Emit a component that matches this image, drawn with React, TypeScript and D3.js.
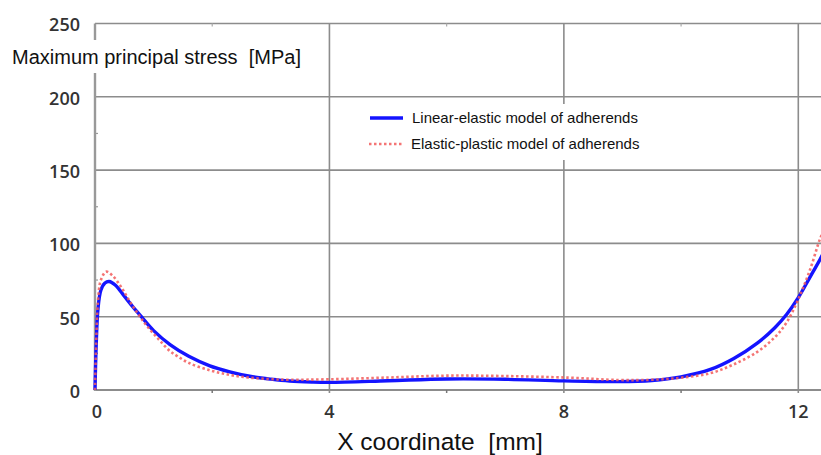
import React from "react";
import * as d3 from "d3";

const W = 821;
const H = 455;

// X coordinate [mm] and stress [MPa]
const linearX = [0, 0.02, 0.05, 0.1, 0.17, 0.24, 0.35, 0.5, 0.65, 0.78, 1.0, 1.28, 1.6, 1.96, 2.3, 2.64, 3.0, 3.32, 3.7, 4.0, 5.0, 6.0, 7.0, 8.0, 8.94, 9.5, 10.0, 10.5, 10.9, 11.3, 11.6, 11.8, 12.0, 12.2, 12.37, 12.45];
const linearY = [0, 30, 55, 68, 73, 74, 71.5, 64, 56.5, 50.5, 40.5, 31, 23, 16.5, 12.4, 9.4, 7.4, 6.1, 5.4, 5.2, 6.3, 7.5, 7.3, 6.2, 5.7, 6.5, 9, 14, 21.5, 32, 42.5, 51.5, 63, 77, 89, 95];

const plasticX = [0, 0.02, 0.05, 0.1, 0.19, 0.3, 0.45, 0.6, 0.75, 0.9, 1.1, 1.28, 1.41, 1.6, 1.96, 2.3, 2.64, 3.0, 3.32, 4.0, 5.0, 6.0, 7.0, 8.09, 8.94, 9.5, 10.0, 10.5, 10.9, 11.3, 11.6, 11.8, 12.0, 12.2, 12.37, 12.45];
const plasticY = [0, 32, 60, 75, 80.7, 78, 70, 60, 51, 43, 34, 26.5, 23, 18.5, 13.4, 10.3, 8.4, 7.4, 7.0, 7.3, 8.5, 9.8, 9.5, 8.4, 6.8, 7, 8.4, 11.5, 17.5, 26, 36, 46, 62, 82, 103, 110];

const xTicks = [0, 4, 8, 12];
const xMinorTicks = [2, 6, 10];
const yTicks = [0, 50, 100, 150, 200, 250];
const yMinorTicks = [25, 75, 125, 175, 225];

const seriesNames = ["Linear-elastic model of adherends", "Elastic-plastic model of adherends"];
const yTitle = "Maximum principal stress  [MPa]";
const xTitle = "X coordinate  [mm]";

export default function App() {
  const left = 95;
  const bottom = 390;
  const top = 23.5;
  const x = d3.scaleLinear().domain([0, 12]).range([left, 798.3]);
  const y = d3.scaleLinear().domain([0, 250]).range([bottom, top]);

  const line = d3
    .line<[number, number]>()
    .x((d) => x(d[0]))
    .y((d) => y(d[1]))
    .curve(d3.curveCatmullRom.alpha(0.5));

  const linData: [number, number][] = linearX.map((v, i) => [v, linearY[i]]);
  const plaData: [number, number][] = plasticX.map((v, i) => [v, plasticY[i]]);

  const gridColor = "#8c8c8c";
  const tickFont = "'Open Sans', sans-serif";
  const pre = { whiteSpace: "pre" as const };

  return (
    <svg
      width={W}
      height={H}
      style={{ position: "absolute", left: 0, top: 0, background: "#fff" }}
    >
      <defs>
        <clipPath id="plot">
          <rect x={left - 2} y={0} width={W - left + 2} height={bottom + 2} />
        </clipPath>
      </defs>
      <rect x={0} y={0} width={W} height={H} fill="#fff" />

      {/* horizontal gridlines */}
      {yTicks.map((t) => (
        <line key={"hg" + t} x1={left} x2={W} y1={y(t)} y2={y(t)} stroke={gridColor} strokeWidth={t === 0 ? 2.2 : 1.6} />
      ))}
      {/* vertical gridlines */}
      {xTicks.filter((t) => t > 0).map((t) => (
        <line key={"vg" + t} x1={x(t)} x2={x(t)} y1={top} y2={bottom + 3} stroke={gridColor} strokeWidth={1.6} />
      ))}
      {/* minor ticks */}
      {xMinorTicks.map((t) => (
        <g key={"xm" + t}>
          <line x1={x(t)} x2={x(t)} y1={bottom} y2={bottom + 3} stroke="#777" strokeWidth={1.5} />
          <line x1={x(t)} x2={x(t)} y1={top} y2={top + 3} stroke="#aaa" strokeWidth={1.2} />
        </g>
      ))}
      {yMinorTicks.map((t) => (
        <line key={"ym" + t} x1={left} x2={left + 3} y1={y(t)} y2={y(t)} stroke="#999" strokeWidth={1.2} />
      ))}
      {/* left axis */}
      <line x1={left} x2={left} y1={top} y2={bottom + 1} stroke="#999" strokeWidth={2.4} />

      {/* y-axis title with white background */}
      <rect x={8} y={40} width={298} height={33} fill="#fff" />
      <text x={12} y={64} xmlSpace="preserve" style={pre} fontFamily="'Liberation Sans', Arial, sans-serif" fontSize={20} fill="#111">
        {yTitle}
      </text>

      {/* y tick labels */}
      {yTicks.map((t) => (
        <text
          key={"yl" + t}
          x={80}
          y={y(t) + 3}
          textAnchor="end"
          dominantBaseline="middle"
          fontFamily={tickFont}
          fontWeight={600}
          fontSize={18}
          fill="#333"
        >
          {t}
        </text>
      ))}
      {/* x tick labels */}
      {xTicks.map((t) => (
        <text
          key={"xl" + t}
          x={x(t) + (t === 0 ? 2 : 0)}
          y={418}
          textAnchor="middle"
          fontFamily={tickFont}
          fontWeight={600}
          fontSize={18}
          fill="#333"
        >
          {t}
        </text>
      ))}
      {/* x title */}
      <text x={440} y={450} textAnchor="middle" xmlSpace="preserve" style={pre} fontFamily="'Liberation Sans', Arial, sans-serif" fontSize={24.5} fill="#111">
        {xTitle}
      </text>

      {/* series */}
      <g clipPath="url(#plot)">
        <path d={line(linData) || ""} fill="none" stroke="#1414ff" strokeWidth={3.4} strokeLinejoin="round" />
        <path d={line(plaData) || ""} fill="none" stroke="#f25c5c" strokeWidth={2.6} strokeDasharray="2.5 2.5" strokeOpacity={0.85} />
      </g>

      {/* legend */}
      <rect x={360} y={104} width={296} height={56} fill="#fff" />
      <line x1={370} x2={403} y1={118} y2={118} stroke="#1414ff" strokeWidth={3.4} />
      <text x={412} y={123} fontFamily="'Liberation Sans', Arial, sans-serif" fontSize={15} fill="#111">
        {seriesNames[0]}
      </text>
      <line x1={369} x2={403} y1={144} y2={144} stroke="#f25c5c" strokeWidth={2.6} strokeDasharray="2.5 2.5" strokeOpacity={0.85} />
      <text x={411} y={149} fontFamily="'Liberation Sans', Arial, sans-serif" fontSize={15} fill="#111">
        {seriesNames[1]}
      </text>
    </svg>
  );
}
